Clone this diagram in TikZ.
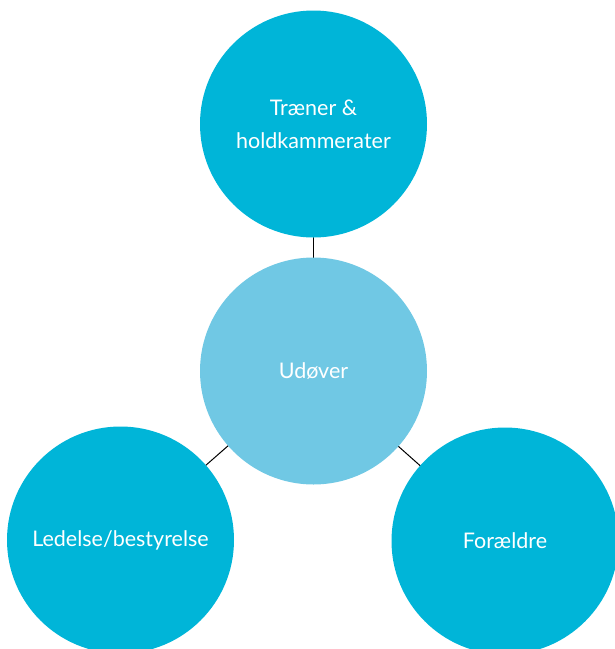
\documentclass[tikz,border=0pt]{standalone}
\usepackage{fontspec}
\setmainfont{Lato}
\definecolor{darkc}{RGB}{0,181,216}
\definecolor{lightc}{RGB}{112,200,228}
\begin{document}
\begin{tikzpicture}[x=1pt,y=-1pt,
  bubble/.style={circle,minimum size=227pt,inner sep=0pt,text=white,font=\fontsize{21.5}{33}\selectfont,align=center},
  outer/.style={bubble,fill=darkc},
  inner/.style={bubble,fill=lightc},
  link/.style={draw=black,line width=1pt}]
\useasboundingbox (0,0) rectangle (615,649);
\clip (0,0) rectangle (615,649);
\coordinate (ct) at (313.5,124);
\coordinate (cc) at (313.5,371);
\coordinate (cl) at (120.5,540);
\coordinate (cr) at (505,541);
\draw[link] (cc) -- (ct);
\draw[link] (cc) -- (cl);
\draw[link] (cc) -- (cr);
\node[outer] (top) at (ct) {Træner \&\\holdkammerater};
\node[inner] (mid) at (cc) {Udøver};
\node[outer] (left) at (cl) {Ledelse/bestyrelse};
\node[outer] (right) at (cr) {Forældre};
\end{tikzpicture}
\end{document}
